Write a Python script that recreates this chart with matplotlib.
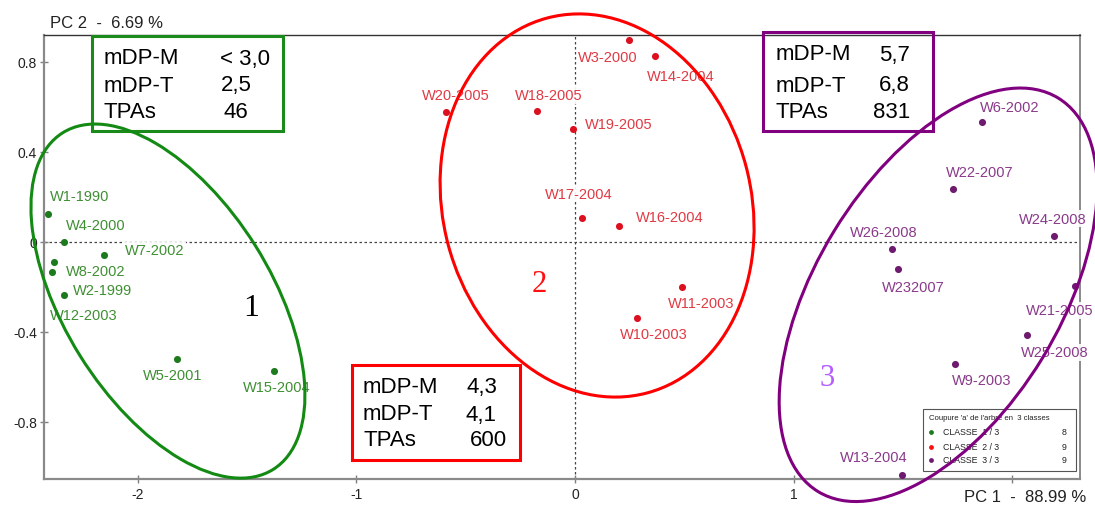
import matplotlib
matplotlib.use('Agg')
import matplotlib.pyplot as plt
from matplotlib.patches import Ellipse, Rectangle
from matplotlib.transforms import ScaledTranslation

plt.rcParams['font.family'] = ['Liberation Sans', 'DejaVu Sans']

# Classe 1 (verde)
c1_nombres = ['W1-1990', 'W4-2000', 'W7-2002', 'W8-2002', 'W12-2003', 'W2-1999', 'W5-2001', 'W15-2004']
c1_x = [-2.412, -2.336, -2.153, -2.382, -2.394, -2.336, -1.822, -1.377]
c1_y = [0.123, 0.0, -0.059, -0.092, -0.136, -0.236, -0.521, -0.575]

# Classe 2 (rojo)
c2_nombres = ['W3-2000', 'W14-2004', 'W20-2005', 'W18-2005', 'W19-2005', 'W17-2004', 'W16-2004', 'W11-2003', 'W10-2003']
c2_x = [0.247, 0.365, -0.590, -0.172, -0.009, 0.031, 0.201, 0.489, 0.285]
c2_y = [0.898, 0.827, 0.575, 0.580, 0.501, 0.107, 0.070, -0.200, -0.340]

# Classe 3 (violeta)
c3_nombres = ['W6-2002', 'W22-2007', 'W24-2008', 'W26-2008', 'W232007', 'W21-2005', 'W25-2008', 'W9-2003', 'W13-2004']
c3_x = [1.860, 1.731, 2.191, 1.449, 1.479, 2.289, 2.066, 1.738, 1.496]
c3_y = [0.531, 0.234, 0.027, -0.032, -0.121, -0.198, -0.415, -0.545, -1.037]

# Cuadros de resumen
filas = ['mDP-M', 'mDP-T', 'TPAs']
valores_1 = ['< 3,0', '2,5', '46']
valores_2 = ['4,3', '4,1', '600']
valores_3 = ['5,7', '6,8', '831']

# Leyenda
leyenda_titulo = "Coupure 'a' de l'arbre en  3 classes"
leyenda_clases = ['CLASSE  1 / 3', 'CLASSE  2 / 3', 'CLASSE  3 / 3']
leyenda_n = ['8', '9', '9']

ticks_x = [-2, -1, 0, 1, 2]
ticks_x_lab = ['-2', '-1', '0', '1', '']
ticks_y = [0.8, 0.4, 0, -0.4, -0.8]
ticks_y_lab = ['0.8', '0.4', '0', '-0.4', '-0.8']

# desplazamiento de etiquetas (pixeles)
off1 = [(32, 18), (31, 17), (50, 5), (41, -9), (32, -43), (38, 5), (-4, -16), (3, -16)]
off2 = [(-21, -17), (26, -20), (10, 17), (11, 16), (46, 5), (-3, 24), (51, 9), (19, -16), (17, -16)]
off3 = [(28, 15), (26, 17), (-1, 17), (-8, 17), (15, -18), (-16, -24), (28, -17), (27, -16), (-28, 18)]

W, H = 1095, 506
fig = plt.figure(figsize=(W / 100, H / 100), dpi=100)
ax = fig.add_axes([44 / W, 1 - 480 / H, (1080 - 44) / W, (480 - 36) / H])
ax.set_xlim(-2.429, 2.310)
ax.set_ylim(-1.055, 0.919)

def fx(px):
    return px / W

def fy(py):
    return 1 - py / H

# lineas de referencia
ax.axhline(0, color='#444444', ls=(0, (2, 2)), lw=0.9, zorder=1)
ax.axvline(0, color='#444444', ls=(0, (2, 2)), lw=0.9, zorder=1)

grupos = [
    (c1_nombres, c1_x, c1_y, off1, '#1d7a1d', '#3f8f33'),
    (c2_nombres, c2_x, c2_y, off2, '#dd1020', '#e03a44'),
    (c3_nombres, c3_x, c3_y, off3, '#6e1a6e', '#8a3a8a'),
]
for nombres, xs, ys, offs, col_p, col_t in grupos:
    ax.scatter(xs, ys, s=26, color=col_p, zorder=4, linewidths=0)
    for n, x, y, o in zip(nombres, xs, ys, offs):
        ax.annotate(n, (x, y), xytext=o, textcoords='offset pixels',
                    ha='center', va='center', fontsize=10.5, color=col_t, zorder=3,
                    bbox=dict(boxstyle='square,pad=0.1', fc='white', ec='none', alpha=0.9))

# elipses (centro en datos, tamano en pulgadas)
elipses = [
    (-1.862, -0.264, 3.97, 2.07, 122, '#138a13'),
    (0.101, 0.161, 3.88, 3.08, 105, '#ff0000'),
    (1.661, -0.236, 4.61, 2.44, 58.6, '#800080'),
]
for cx, cy, w, h, ang, col in elipses:
    tr = fig.dpi_scale_trans + ScaledTranslation(cx, cy, ax.transData)
    ax.add_patch(Ellipse((0, 0), w, h, angle=ang, fill=False, ec=col, lw=2.2,
                         transform=tr, zorder=6, clip_on=False))

# numeros de clase
ax.text(fx(251), fy(308), '1', transform=fig.transFigure, ha='center', va='center',
        fontsize=23, family='Liberation Serif', color='black')
ax.text(fx(539), fy(284), '2', transform=fig.transFigure, ha='center', va='center',
        fontsize=22, family='Liberation Serif', color='#ff1010')
ax.text(fx(827), fy(379), '3', transform=fig.transFigure, ha='center', va='center',
        fontsize=22, family='Liberation Serif', color='#b45cff')

# cuadros de resumen
def cuadro(x0, y0, x1, y1, col, xl, xv, ys, vals, alin):
    ax.add_patch(Rectangle((fx(x0), fy(y1)), fx(x1) - fx(x0), fy(y0) - fy(y1),
                           transform=fig.transFigure, fill=False, ec=col, lw=2.2,
                           clip_on=False, zorder=5))
    for f, v, yy, xx in zip(filas, vals, ys, xv):
        ax.text(fx(xl), fy(yy), f, transform=fig.transFigure, va='center',
                fontsize=16, color='black', clip_on=False)
        ax.text(fx(xx), fy(yy), v, transform=fig.transFigure, va='center', ha=alin,
                fontsize=16, color='black', clip_on=False)

cuadro(92, 37, 283, 132, '#1a8a1a', 104, [220, 221, 224], [59, 86, 112], valores_1, 'left')
cuadro(352, 366, 520, 461, '#ff0000', 363, [497, 496, 507], [388, 415, 441], valores_2, 'right')
cuadro(763, 33, 933, 132, '#800080', 776, [910, 910, 910], [55, 86, 113], valores_3, 'right')

# leyenda
ax.add_patch(Rectangle((fx(923), fy(472)), fx(1076) - fx(923), fy(410) - fy(472),
                       transform=fig.transFigure, fc='white', ec='#555555', lw=0.8, zorder=5))
ax.text(fx(929), fy(419), leyenda_titulo, transform=fig.transFigure, va='center',
        fontsize=5.6, color='#222222', zorder=5)
for i, (cl, n, col) in enumerate(zip(leyenda_clases, leyenda_n, ['#1d7a1d', '#ff1010', '#6e1a6e'])):
    yy = [433, 448, 461][i]
    ax.scatter([fx(931)], [fy(yy)], s=12, color=col, transform=fig.transFigure,
               zorder=5, linewidths=0, clip_on=False)
    ax.text(fx(943), fy(yy), cl, transform=fig.transFigure, va='center',
            fontsize=6.3, color='#222222', zorder=5)
    ax.text(fx(1066), fy(yy), n, transform=fig.transFigure, va='center', ha='right',
            fontsize=6.3, color='#222222', zorder=5)

# ejes
ax.set_xticks(ticks_x)
ax.set_xticklabels(ticks_x_lab)
ax.set_yticks(ticks_y)
ax.set_yticklabels(ticks_y_lab)
ax.tick_params(direction='inout', length=6, width=1, colors='#808080',
               labelcolor='#222222', labelsize=10)
ax.tick_params(axis='x', pad=3)
ax.tick_params(axis='y', pad=2)
ax.spines['left'].set_color('#8a8a8a')
ax.spines['left'].set_linewidth(1.6)
ax.spines['bottom'].set_color('#8a8a8a')
ax.spines['bottom'].set_linewidth(1.6)
ax.spines['right'].set_color('#8a8a8a')
ax.spines['right'].set_linewidth(1.4)
ax.spines['top'].set_color('#333333')
ax.spines['top'].set_linewidth(1.0)

fig.text(fx(50), fy(23), 'PC 2  -  6.69 %', va='center', ha='left', fontsize=12, color='#222222')
fig.text(fx(1086), fy(498), 'PC 1  -  88.99 %', va='center', ha='right', fontsize=12, color='#222222')

fig.savefig('out.png', dpi=100)
